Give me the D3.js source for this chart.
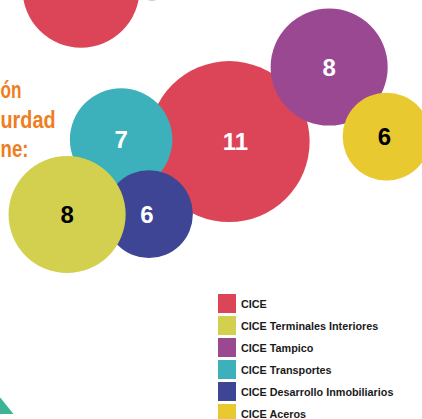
<!DOCTYPE html>
<html><head><meta charset="utf-8">
<script src="https://cdn.jsdelivr.net/npm/d3@7"></script>
<style>body{margin:0;background:#fff}svg{display:block}</style>
</head><body>
<svg id="c" width="422" height="419"></svg>
<script>
// ---- data ----
const categories = ["CICE", "CICE Terminales Interiores", "CICE Tampico", "CICE Transportes", "CICE Desarrollo Inmobiliarios", "CICE Aceros"];
const values = [11, 8, 8, 7, 6, 6];
const colors = ["#dc4558", "#d4d04f", "#9b4893", "#3cb0bb", "#3e4595", "#e9c930"];
const labelColors = ["#fff", "#000", "#fff", "#fff", "#fff", "#000"];
const headingLines = ["ón", "urdad", "ne:"];

// ---- layout (abstract units 0..100 mapped by scales) ----
const layout = [ // x, y, label dx in layout space for each category
  [54.3, 33.8, 1.5],  // CICE
  [15.9, 51.2, 0],    // Terminales
  [78.0, 16.0, 0],    // Tampico
  [28.7, 33.3, 0],    // Transportes
  [35.3, 51.1, -0.5], // Desarrollo
  [91.6, 32.6, -0.5]  // Aceros
];
const drawOrder = [0, 2, 5, 3, 4, 1];

const svg = d3.select("#c");
const x = d3.scaleLinear().domain([0, 100]).range([0, 422]);
const y = d3.scaleLinear().domain([0, 100]).range([0, 419]);
const r = d3.scaleLinear().domain([0, 11]).range([0, 80.5]);

// fragments of the previous bubble group (cropped at top)
const prevGroup = [
  {x: 19.2, y: -2.6, v: 8, c: "#dc4558"},
  {x: 36.0, y: -5.5, v: 3.2, c: "#3e4595"}
];
svg.selectAll("circle.prev").data(prevGroup).join("circle")
  .attr("class", "prev")
  .attr("cx", d => x(d.x)).attr("cy", d => y(d.y))
  .attr("r", d => r(d.v)).attr("fill", d => d.c);

const nodes = drawOrder.map(i => ({i, cat: categories[i], v: values[i], c: colors[i], lc: labelColors[i], px: layout[i][0], py: layout[i][1], dx: layout[i][2]}));

const g = svg.selectAll("g.bubble").data(nodes).join("g").attr("class", "bubble");
g.append("circle")
  .attr("cx", d => x(d.px)).attr("cy", d => y(d.py))
  .attr("r", d => r(d.v)).attr("fill", d => d.c);
g.append("text")
  .attr("x", d => x(d.px + d.dx)).attr("y", d => y(d.py))
  .attr("text-anchor", "middle").attr("dominant-baseline", "central")
  .attr("font-family", "Liberation Sans, Arial, sans-serif").attr("font-weight", 700)
  .attr("font-size", 24).attr("fill", d => d.lc)
  .text(d => d.v);

// heading fragment (cropped at the left edge)
const headW = [21, 55, 28];
svg.selectAll("text.head").data(headingLines).join("text")
  .attr("class", "head")
  .attr("x", 0.5).attr("y", (d, i) => 98 + i * 29.5)
  .attr("textLength", (d, i) => headW[i]).attr("lengthAdjust", "spacingAndGlyphs")
  .attr("font-family", "Liberation Sans, Arial, sans-serif").attr("font-weight", 700)
  .attr("font-size", 24).attr("fill", "#ef7d22")
  .text(d => d);

// decorative triangle bottom-left
svg.append("path").attr("d", d3.line()([[-14, 380], [13.5, 414], [-14, 414]])).attr("fill", "#3bb595");

// legend
const leg = svg.append("g").attr("transform", "translate(218,294)");
const li = leg.selectAll("g").data(categories).join("g")
  .attr("transform", (d, i) => `translate(0,${i * 22})`);
li.append("rect").attr("width", 18).attr("height", 19).attr("fill", (d, i) => colors[i]);
li.append("text").attr("x", 23).attr("y", 9.5).attr("dominant-baseline", "central")
  .attr("font-family", "Liberation Sans, Arial, sans-serif").attr("font-weight", 700)
  .attr("font-size", 10.8).attr("fill", "#1a1a1a")
  .text(d => d);
</script>
</body></html>
